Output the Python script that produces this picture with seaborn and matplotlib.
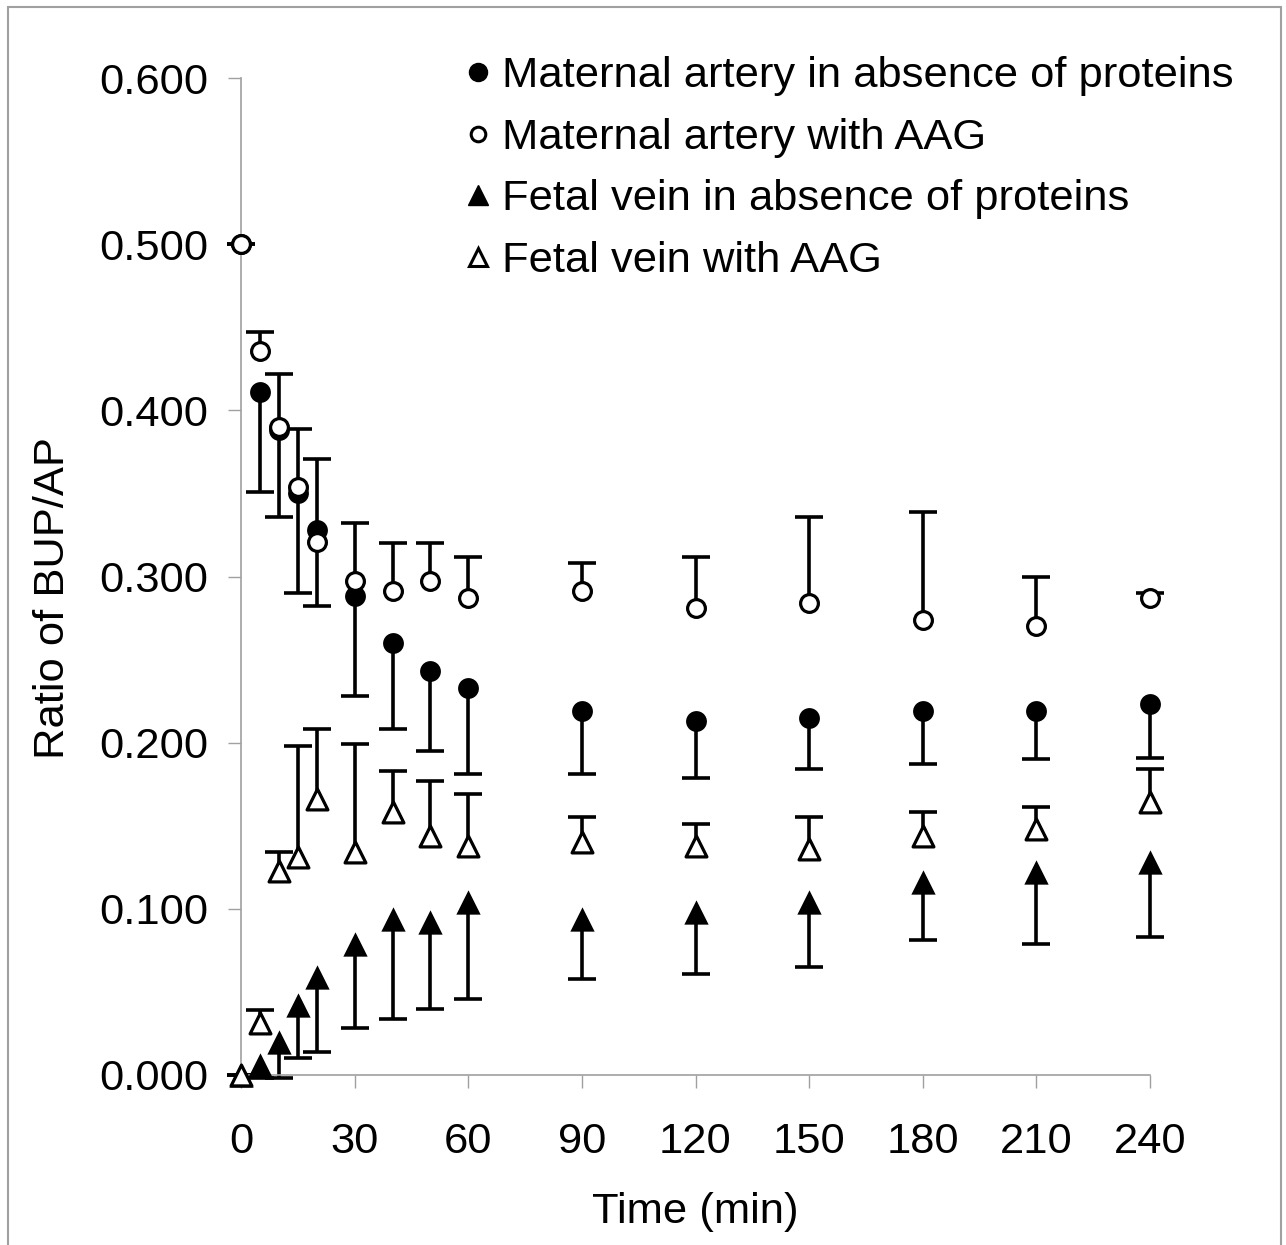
import numpy as np
import pandas as pd
import matplotlib
matplotlib.use('Agg')
import matplotlib.pyplot as plt
from matplotlib.lines import Line2D
from matplotlib.patches import Rectangle
import seaborn as sns

# ---- data ----
times = [0, 5, 10, 15, 20, 30, 40, 50, 60, 90, 120, 150, 180, 210, 240]

ma_free     = [0.500, 0.411, 0.388, 0.350, 0.328, 0.288, 0.260, 0.243, 0.233, 0.219, 0.213, 0.215, 0.219, 0.219, 0.223]
ma_free_err = [0.000, 0.060, 0.052, 0.060, 0.046, 0.060, 0.052, 0.048, 0.052, 0.038, 0.034, 0.031, 0.032, 0.029, 0.032]

ma_aag      = [0.500, 0.436, 0.390, 0.354, 0.321, 0.297, 0.291, 0.297, 0.287, 0.291, 0.281, 0.284, 0.274, 0.270, 0.287]
ma_aag_err  = [0.000, 0.011, 0.032, 0.035, 0.050, 0.035, 0.029, 0.023, 0.025, 0.017, 0.031, 0.052, 0.065, 0.030, 0.003]

fv_free     = [0.000, 0.006, 0.020, 0.042, 0.059, 0.079, 0.094, 0.092, 0.104, 0.094, 0.098, 0.104, 0.116, 0.122, 0.128]
fv_free_err = [0.000, 0.008, 0.022, 0.032, 0.045, 0.051, 0.060, 0.052, 0.058, 0.036, 0.037, 0.039, 0.035, 0.043, 0.045]

fv_aag      = [0.000, 0.031, 0.123, 0.131, 0.166, 0.134, 0.158, 0.144, 0.138, 0.140, 0.138, 0.136, 0.144, 0.148, 0.164]
fv_aag_err  = [0.000, 0.008, 0.011, 0.067, 0.042, 0.065, 0.025, 0.033, 0.031, 0.015, 0.013, 0.019, 0.014, 0.013, 0.020]

labels = ['Maternal artery in absence of proteins',
          'Maternal artery with AAG',
          'Fetal vein in absence of proteins',
          'Fetal vein with AAG']

# ---- style ----
sns.set_style('white')
plt.rcParams['font.family'] = ['Liberation Sans', 'DejaVu Sans']
plt.rcParams['text.color'] = 'black'
plt.rcParams['axes.labelcolor'] = 'black'
FS = 31.3
GRAY = '#a0a0a0'

fig = plt.figure(figsize=(12.86, 12.45), dpi=100)
ax = fig.add_axes([241/1286, 1 - 1075/1245, (1150 - 241)/1286, (1075 - 78)/1245])

# series: (values, errors, marker, filled, direction, marker size)
series = [
    (ma_free, ma_free_err, 'o', True,  'down', 15.0),
    (ma_aag,  ma_aag_err,  'o', False, 'up',   12.8),
    (fv_free, fv_free_err, '^', True,  'down', 17.5),
    (fv_aag,  fv_aag_err,  '^', False, 'up',   15.0),
]

# one-sided error bars (cap only on the far end)
for vals, errs, mk, filled, direction, size in series:
    zeros = np.zeros(len(errs))
    yerr = [errs, zeros] if direction == 'down' else [zeros, errs]
    eb = ax.errorbar(times, vals, yerr=yerr, fmt='none', ecolor='black',
                     elinewidth=2.6, capsize=10, capthick=2.6, zorder=2)
    # hide the cap that sits on the data point itself
    for cap in eb.lines[1]:
        if np.allclose(cap.get_ydata(), vals):
            cap.set_visible(False)
        cap.set_clip_on(False)
    for art in eb.lines[2]:
        art.set_clip_on(False)

# markers on top
for i, (vals, errs, mk, filled, direction, size) in enumerate(series):
    df = pd.DataFrame({'Time': times, 'Ratio': vals})
    sns.scatterplot(data=df, x='Time', y='Ratio', marker=mk, s=size**2,
                    color='black' if filled else 'white',
                    edgecolor='black', linewidth=0 if filled else 2.3,
                    ax=ax, zorder=3 + i, clip_on=False, legend=False)

ax.set_xlim(0, 240)
ax.set_ylim(0, 0.6)
ax.set_xticks(range(0, 241, 30))
ax.set_yticks(np.arange(0, 0.61, 0.1))
ax.set_yticklabels([f'{v:.3f}' for v in np.arange(0, 0.61, 0.1)])
ax.tick_params(axis='both', direction='out', length=9.5, width=1, color=GRAY,
               labelsize=FS, labelcolor='black')
ax.tick_params(axis='y', pad=14)
ax.tick_params(axis='x', pad=24)
ax.xaxis.set_ticks_position('bottom')
ax.yaxis.set_ticks_position('left')

for side in ['top', 'right']:
    ax.spines[side].set_visible(False)
for side in ['left', 'bottom']:
    ax.spines[side].set_color(GRAY)
    ax.spines[side].set_linewidth(1.2)

ax.set_xlabel('Time (min)', fontsize=FS, labelpad=22)
ax.set_ylabel('Ratio of BUP/AP', fontsize=FS, labelpad=19)
ax.yaxis.label.set_y(0.478)

# legend
handles = [
    Line2D([], [], ls='none', marker='o', ms=13, mfc='black', mec='black'),
    Line2D([], [], ls='none', marker='o', ms=10.5, mfc='white', mec='black', mew=2.2),
    Line2D([], [], ls='none', marker='^', ms=15, mfc='black', mec='black'),
    Line2D([], [], ls='none', marker='^', ms=13.5, mfc='white', mec='black', mew=2.2),
]
fig.legend(handles, labels, loc='upper left', bbox_to_anchor=(465/1286, 1 - 56/1245),
           frameon=False, fontsize=FS, handlelength=0.6, handletextpad=0.25,
           labelspacing=0.5, borderpad=0, borderaxespad=0)

# outer frame of the figure
fig.add_artist(Rectangle((8/1286, -0.02), (1281 - 8)/1286, 1.02 - 7/1245,
                         transform=fig.transFigure, fill=False,
                         edgecolor=GRAY, linewidth=1.5))

fig.savefig('out.png', dpi=100)
